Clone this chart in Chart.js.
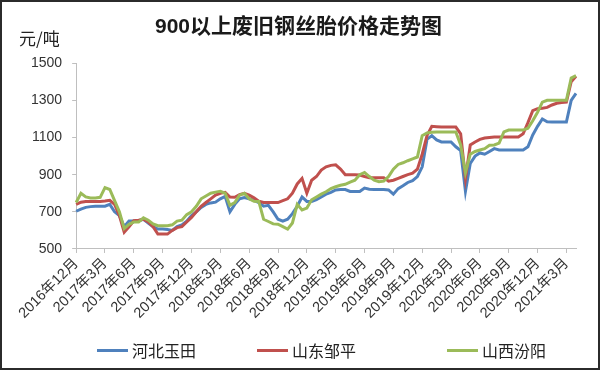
<!DOCTYPE html>
<html>
<head>
<meta charset="utf-8">
<script src="https://cdn.jsdelivr.net/npm/chart.js@4.4.1/dist/chart.umd.min.js"></script>
<style>
  body { margin: 0; background: #fff; }
  #wrap { position: relative; width: 600px; height: 370px; box-sizing: border-box; border: 2px solid #2b2b2b; background: #fff; }
  #chart { position: absolute; left: 0; top: 0; }
  .unit { position: absolute; left: 17px; top: 26px; font: 17px 'Noto Sans CJK SC', sans-serif; line-height: 20px; color: #222; }
  .leg { position: absolute; top: 338px; height: 20px; display: flex; align-items: center; font: 16px 'Noto Sans CJK SC', sans-serif; color: #222; }
  .leg i { display: inline-block; width: 31px; height: 3px; margin-right: 4px; }
</style>
</head>
<body>
<div id="wrap">
  <canvas id="chart" width="596" height="366"></canvas>
  <div class="unit">元/吨</div>
  <div id="legend"></div>
</div>
<script>
/* 900以上废旧钢丝胎价格 — 半月一个点 */
const periods = [
  '2016-12-01','2016-12-16',
  '2017-01-01','2017-01-16','2017-02-01','2017-02-16','2017-03-01','2017-03-16','2017-04-01','2017-04-16',
  '2017-05-01','2017-05-16','2017-06-01','2017-06-16','2017-07-01','2017-07-16','2017-08-01','2017-08-16',
  '2017-09-01','2017-09-16','2017-10-01','2017-10-16','2017-11-01','2017-11-16','2017-12-01','2017-12-16',
  '2018-01-01','2018-01-16','2018-02-01','2018-02-16','2018-03-01','2018-03-16','2018-04-01','2018-04-16',
  '2018-05-01','2018-05-16','2018-06-01','2018-06-16','2018-07-01','2018-07-16','2018-08-01','2018-08-16',
  '2018-09-01','2018-09-16','2018-10-01','2018-10-16','2018-11-01','2018-11-16','2018-12-01','2018-12-16',
  '2019-01-01','2019-01-16','2019-02-01','2019-02-16','2019-03-01','2019-03-16','2019-04-01','2019-04-16',
  '2019-05-01','2019-05-16','2019-06-01','2019-06-16','2019-07-01','2019-07-16','2019-08-01','2019-08-16',
  '2019-09-01','2019-09-16','2019-10-01','2019-10-16','2019-11-01','2019-11-16','2019-12-01','2019-12-16',
  '2020-01-01','2020-01-16','2020-02-01','2020-02-16','2020-03-01','2020-03-16','2020-04-01','2020-04-16',
  '2020-05-01','2020-05-16','2020-06-01','2020-06-16','2020-07-01','2020-07-16','2020-08-01','2020-08-16',
  '2020-09-01','2020-09-16','2020-10-01','2020-10-16','2020-11-01','2020-11-16','2020-12-01','2020-12-16',
  '2021-01-01','2021-01-16','2021-02-01','2021-02-16','2021-03-01','2021-03-16','2021-04-01'
];

// one label every quarter (every 6th point)
const tickLabels = [
  '2016年12月','2017年3月','2017年6月','2017年9月','2017年12月','2018年3月','2018年6月','2018年9月',
  '2018年12月','2019年3月','2019年6月','2019年9月','2019年12月','2020年3月','2020年6月','2020年9月',
  '2020年12月','2021年3月'
];

const hebeiYutian = [
  703, 715, 724, 728, 730, 730, 730, 740, 700, 680,
  620, 650, 650, 652, 660, 640, 620, 607, 607, 605,
  600, 620, 630, 650, 680, 700, 724, 740, 748, 752,
  770, 783, 700, 740, 770, 777, 770, 762, 750, 730,
  735, 700, 660, 650, 660, 690, 730, 780, 756, 756,
  765, 780, 795, 805, 818, 820, 820, 810, 809, 809,
  828, 822, 820, 820, 820, 818, 795, 825, 840, 858,
  868, 890, 942, 1090, 1110, 1087, 1076, 1076, 1076, 1050,
  1030, 810, 960, 1000, 1017, 1010, 1025, 1040, 1033, 1033,
  1033, 1033, 1033, 1033, 1050, 1114, 1160, 1200, 1185, 1183,
  1183, 1183, 1183, 1300, 1337
];

const shandongZouping = [
  740, 752, 756, 756, 756, 756, 758, 762, 740, 680,
  590, 620, 652, 655, 660, 645, 620, 580, 580, 580,
  600, 615, 620, 645, 670, 700, 730, 750, 770, 790,
  800, 805, 780, 778, 793, 800, 790, 775, 757, 750,
  750, 750, 750, 760, 770, 800, 850, 880, 800, 870,
  890, 925, 942, 950, 953, 930, 900, 900, 900, 898,
  890, 884, 884, 884, 884, 865, 870, 880, 890, 900,
  908, 930, 1010, 1110, 1160, 1158, 1156, 1156, 1156, 1156,
  1120, 880, 1060, 1076, 1090, 1097, 1100, 1103, 1103, 1103,
  1103, 1103, 1103, 1120, 1180, 1245, 1255, 1258, 1262, 1275,
  1284, 1288, 1290, 1400, 1430
];

const shanxiFenyang = [
  750, 800, 780, 775, 775, 778, 830, 820, 760, 700,
  610, 633, 645, 645, 668, 655, 635, 625, 625, 625,
  630, 650, 655, 685, 700, 730, 770, 785, 800, 806,
  810, 800, 735, 750, 790, 800, 770, 757, 756, 660,
  648, 635, 633, 620, 607, 640, 740, 710, 720, 765,
  780, 795, 808, 825, 835, 843, 848, 860, 870, 900,
  912, 890, 870, 862, 865, 890, 930, 955, 964, 975,
  985, 995, 1110, 1124, 1128, 1130, 1130, 1130, 1130, 1130,
  1060, 910, 1010, 1025, 1033, 1040, 1058, 1060, 1070, 1130,
  1140, 1140, 1140, 1140, 1150, 1190, 1236, 1290, 1300, 1300,
  1300, 1300, 1300, 1420, 1433
];

const FONT = "'Liberation Sans', 'Noto Sans CJK SC', sans-serif";
const AXIS = '#bfbfbf';

const series = [
  { label: '河北玉田', data: hebeiYutian, color: '#4F81BD', order: 2, left: 95 },
  { label: '山东邹平', data: shandongZouping, color: '#C0504D', order: 1, left: 255 },
  { label: '山西汾阳', data: shanxiFenyang, color: '#9BBB59', order: 0, left: 445 }
];

new Chart(document.getElementById('chart'), {
  type: 'line',
  data: {
    labels: periods,
    datasets: series.map(s => ({
      label: s.label,
      data: s.data,
      borderColor: s.color,
      backgroundColor: s.color,
      order: s.order
    }))
  },
  options: {
    responsive: false,
    animation: false,
    layout: { padding: { left: 19, right: 22, top: 0, bottom: 44 } },
    elements: {
      point: { radius: 0 },
      line: { borderWidth: 3, tension: 0 }
    },
    plugins: {
      legend: { display: false },
      tooltip: { enabled: false },
      title: {
        display: true,
        text: '900以上废旧钢丝胎价格走势图',
        color: '#1a1a1a',
        font: { family: FONT, size: 21, weight: 'bold' },
        padding: { top: 13, bottom: 23 }
      }
    },
    scales: {
      x: {
        border: { color: AXIS },
        grid: { drawOnChartArea: false, tickLength: 4, color: AXIS },
        ticks: {
          autoSkip: false,
          minRotation: 45,
          maxRotation: 45,
          padding: 2,
          color: '#333',
          font: { family: FONT, size: 14.5 },
          callback: (v, i) => i % 6 === 0 ? tickLabels[i / 6] : null
        }
      },
      y: {
        min: 500,
        max: 1500,
        border: { color: AXIS },
        grid: { drawOnChartArea: false, tickLength: 4, color: AXIS },
        ticks: {
          stepSize: 200,
          padding: 10,
          color: '#333',
          font: { family: FONT, size: 14 },
          callback: v => String(v)
        }
      }
    }
  }
});

// legend under the chart
const legend = document.getElementById('legend');
series.forEach(s => {
  const item = document.createElement('div');
  item.className = 'leg';
  item.style.left = s.left + 'px';
  item.innerHTML = `<i style="background:${s.color}"></i>${s.label}`;
  legend.appendChild(item);
});
</script>
</body>
</html>
